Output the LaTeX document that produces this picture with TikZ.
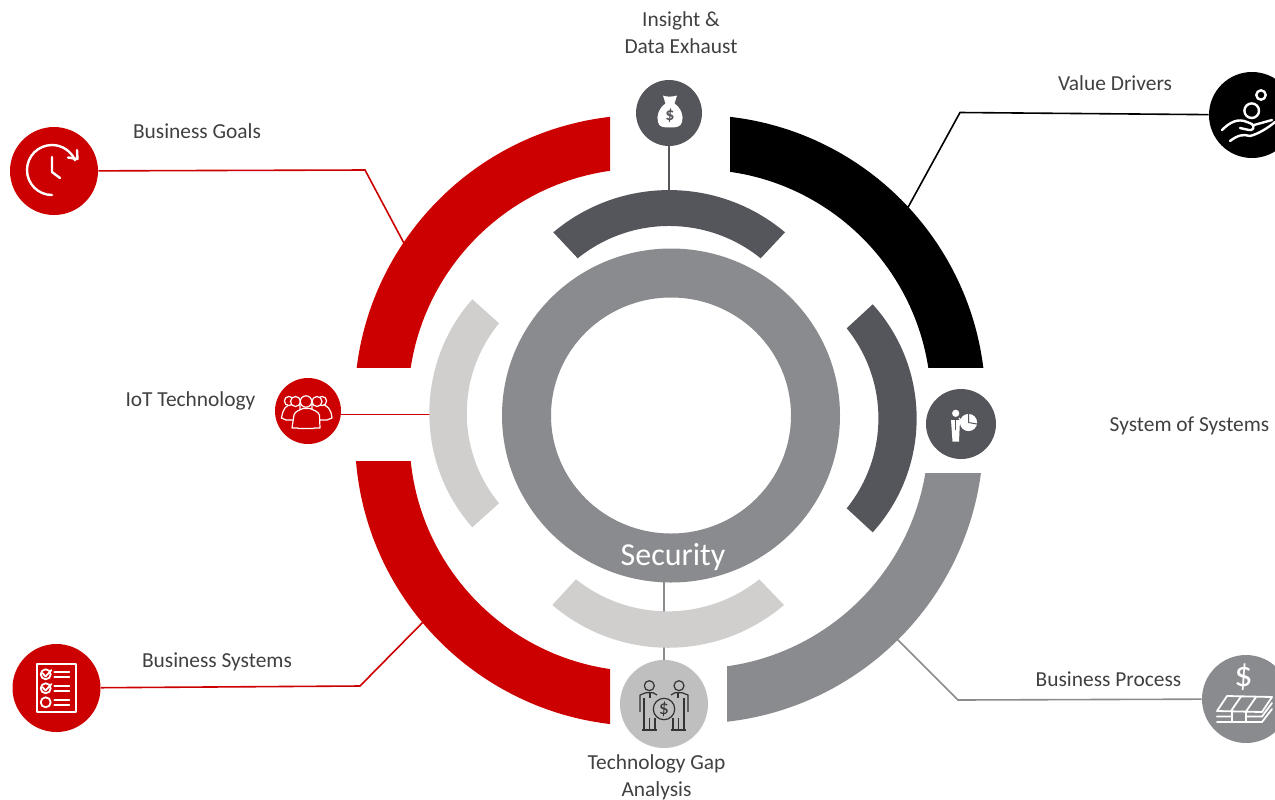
\documentclass[tikz,border=0pt]{standalone}
\usepackage{fontspec}
\setmainfont{Carlito}
\definecolor{ringred}{HTML}{CC0000}
\definecolor{ringdark}{HTML}{55565B}
\definecolor{ringmid}{HTML}{8A8B8E}
\definecolor{ringlight}{HTML}{D0CFCD}
\definecolor{iconlight}{HTML}{BFBFBF}
\definecolor{labeltext}{HTML}{404040}
\def\ringquad[#1](#2)(#3)(#4)(#5:#6){\begin{scope}\clip (#3) rectangle (#4);\fill[#1,even odd rule] (#2) circle (#5) (#2) circle (#6);\end{scope}}
\tikzset{
	label/.style={text=labeltext, font=\fontsize{10.7}{12}\selectfont, inner sep=0pt},
	iconbig/.style={circle, fill=#1, minimum size=44pt, inner sep=0pt},
	iconsmall/.style={circle, fill=#1, minimum size=33pt, inner sep=0pt},
	wire/.style={line width=0.8pt, color=#1},
	glyph/.style={line width=1.2pt, color=white, line cap=round, line join=round},
	thin glyph/.style={line width=0.6pt, color=white, line join=round},
	dark glyph/.style={line width=0.6pt, color=black!80, line join=round}
}
\begin{document}
\begin{tikzpicture}[x=0.5pt, y=-0.5pt]
			%%%%% FRAME %%%%%
			\clip (0, 0) rectangle (1275, 799);
			
			%%%%% ICON DISCS %%%%%
			\node[iconbig=ringred] (goals) at (54, 171) {};
			\node[iconbig=black, minimum size=43pt] (drivers) at (1252, 115) {};
			\node[iconbig=ringred] (systems) at (56.5, 688) {};
			\node[iconbig=ringmid] (process) at (1246, 699) {};
			\node[iconbig=iconlight] (gap) at (664, 704) {};
			\node[iconsmall=ringdark] (insight) at (669, 113) {};
			\node[iconsmall=ringred] (iot) at (308, 411) {};
			\node[iconsmall=ringdark, minimum size=35pt] (sos) at (961, 424) {};
			
			%%%%% CONNECTORS %%%%%
			\coordinate (goalsbend) at (365, 170);
			\coordinate (goalsend) at (406, 247);
			\coordinate (driversbend) at (960, 112.5);
			\coordinate (driversend) at (906, 211);
			\coordinate (systemsbend) at (360, 686);
			\coordinate (systemsend) at (428, 617);
			\coordinate (processbend) at (958, 700);
			\coordinate (processend) at (894, 636);
			\coordinate (iotend) at (432, 414.3);
			\coordinate (insightend) at (669, 192);
			\coordinate (gapend) at (664, 580);
			
			\draw[wire=ringred] (goals) -- (goalsbend) -- (goalsend);
			\draw[wire=black] (drivers) -- (driversbend) -- (driversend);
			\draw[wire=ringred] (systems) -- (systemsbend) -- (systemsend);
			\draw[wire=ringmid] (process) -- (processbend) -- (processend);
			\draw[wire=ringred] (iot.east |- iotend) -- (iotend);
			\draw[wire=ringdark] (insight) -- (insightend);
			\draw[wire=ringmid] (gap) -- (gapend);
			
			%%%%% OUTER RING %%%%%
			\ringquad[ringred](643, 403.5)(250, 60)(610, 367)(288.5:235);
			\ringquad[black](697, 403.5)(730, 60)(1000, 367)(288.5:234);
			\ringquad[ringred](644, 437)(250, 461)(610, 780)(289:234.5);
			\ringquad[ringmid](694.5, 434.5)(727, 473)(1000, 780)(289:234);
			
			%%%%% MIDDLE RING %%%%%
			\fill[ringdark] (553.3, 232.3) .. controls (620.2, 176) and (718.1, 176) .. (785, 232.3) -- (760.7, 258.3) .. controls (707.2, 215.2) and (631.2, 215.2) .. (577.7, 258.3) -- cycle;
			\fill[ringdark] (872.7, 304.3) .. controls (931.3, 369) and (931.3, 467.6) .. (872.7, 532.3) -- (846.7, 508.3) .. controls (889, 455.5) and (889, 381.1) .. (846.7, 328.3) -- cycle;
			\fill[ringlight] (472.3, 299.3) .. controls (415, 364) and (415, 462.6) .. (472.3, 527.3) -- (499, 503.3) .. controls (456, 450.5) and (456, 376.1) .. (499, 323.3) -- cycle;
			\fill[ringlight] (552.3, 605) .. controls (619.3, 662) and (717, 662) .. (784, 605) -- (759.3, 579.3) .. controls (705.8, 622) and (629.5, 622) .. (576, 579.3) -- cycle;
			
			%%%%% CENTRE RING %%%%%
			\fill[ringmid, even odd rule] (671, 415.5) ellipse (169 and 167) (671, 415.5) ellipse (120 and 118);
			\node[text=white, font=\fontsize{16}{18}\selectfont, inner sep=0pt] (security) at (673, 557) {Security};
			
			%%%%% LABELS %%%%%
			\node[label] (insightlabel) at (681, 21) {Insight \&};
			\node[label] (insightlabeltwo) at (681, 46.5) {Data Exhaust};
			\node[label] (driverslabel) at (1115, 83.5) {Value Drivers};
			\node[label] (goalslabel) at (197, 131.5) {Business Goals};
			\node[label] (iotlabel) at (190.5, 401) {IoT Technology};
			\node[label] (soslabel) at (1189.5, 426) {System of Systems};
			\node[label] (systemslabel) at (217, 661.5) {Business Systems};
			\node[label] (processlabel) at (1108.5, 679.5) {Business Process};
			\node[label] (gaplabel) at (656.5, 764) {Technology Gap};
			\node[label] (gaplabeltwo) at (656.5, 791) {Analysis};
			
			%%%%% CLOCK %%%%%
			\draw[glyph] (52, 195) arc (90:337:25);
			\draw[glyph] (77, 150) -- (77.5, 159) -- (68, 157.5);
			\draw[glyph] (52, 157) -- (52, 172) -- (60, 178);
			
			%%%%% HAND AND COINS %%%%%
			\draw[glyph] (1251.7, 110.7) circle (7.3);
			\draw[glyph] (1261, 95) circle (4.7);
			\draw[glyph] (1222, 130) .. controls (1230, 122) and (1238, 118) .. (1247, 122) -- (1252, 124) .. controls (1255, 127) and (1253, 131) .. (1249, 130) -- (1240, 128);
			\draw[glyph] (1230, 141) .. controls (1238, 135) and (1243, 134) .. (1250, 136) .. controls (1258, 134) and (1268, 128) .. (1275, 122);
			\draw[glyph] (1254, 125) -- (1272, 120);
			
			%%%%% CHECKLIST %%%%%
			\draw[glyph, line width=0.9pt] (36.7, 664) rectangle (76, 712);
			\draw[glyph, line width=0.9pt] (45.7, 674.3) circle (5) (45.7, 688.3) circle (5) (45.7, 702.3) circle (5);
			\draw[glyph, line width=0.9pt] (42.5, 673) -- (45.5, 676.5) -- (51.5, 670) (42.5, 687) -- (45.5, 690.5) -- (51.5, 684);
			\draw[glyph, line width=0.9pt] (54.3, 672.3) -- (69.3, 672.3) (54.3, 676.7) -- (69.3, 676.7);
			\draw[glyph, line width=0.9pt] (54.3, 686.3) -- (69.3, 686.3) (54.3, 690.7) -- (69.3, 690.7);
			\draw[glyph, line width=0.9pt] (54.3, 700.3) -- (69.3, 700.3) (54.3, 704.7) -- (69.3, 704.7);
			
			%%%%% MONEY BAG %%%%%
			\fill[white] (663, 95.5) .. controls (666, 97) and (673, 97) .. (677, 95.5) -- (674.5, 103.5) .. controls (681, 108) and (684, 116) .. (682, 122) .. controls (681, 127) and (676, 127.5) .. (670, 127.5) .. controls (663, 127.5) and (659, 127) .. (658, 122) .. controls (656, 116) and (659, 108) .. (665.5, 103.5) -- cycle;
			\node[text=ringdark, font=\fontsize{9}{10}\selectfont\bfseries, inner sep=0pt] (bagsign) at (670, 116) {\$};
			
			%%%%% PERSON AND PIE %%%%%
			\fill[white] (955.7, 413.3) circle (3.6);
			\fill[white] (951, 420) -- (960, 420) -- (959, 441.5) -- (952.5, 441.5) -- cycle;
			\draw[ringdark, line width=0.4pt] (955.5, 420) -- (955.5, 430);
			\fill[white] (968.5, 422.5) circle (8.6);
			\draw[ringdark, line width=0.5pt] (968.5, 422.5) -- (968.5, 413) (968.5, 422.5) -- (977, 424);
			\draw[white, line width=0.6pt] (959, 418) -- (963, 423);
			
			%%%%% MONEY STACK %%%%%
			\node[text=white, font=\fontsize{18}{20}\selectfont, inner sep=0pt] (stacksign) at (1243.5, 677) {\$};
			\draw[glyph, line width=0.9pt] (1227, 696) -- (1272, 697) -- (1262, 712) -- (1217, 711) -- cycle;
			\draw[glyph, line width=0.9pt] (1241, 696.5) -- (1231, 711) (1256, 697) -- (1246, 711.5);
			\draw[glyph, line width=0.9pt] (1232, 711) -- (1232, 722) -- (1246, 722) -- (1246, 711.5);
			\draw[glyph, line width=0.9pt] (1217, 716.5) -- (1232, 716.5) (1246, 716.5) -- (1262, 716.5) -- (1272, 703);
			\draw[glyph, line width=0.9pt] (1217, 722) -- (1232, 722) (1246, 722) -- (1262, 722) -- (1272, 709);
			
			%%%%% CROWD %%%%%
			\draw[thin glyph, fill=ringred] (281.5, 418) .. controls (283, 408) and (286, 406) .. (291, 404) -- (300, 404) -- (300, 420) -- (286, 420) -- cycle;
			\draw[thin glyph, fill=ringred] (332, 418) .. controls (331, 408) and (327, 406) .. (322, 404) -- (312, 404) -- (312, 420) -- (327, 420) -- cycle;
			\draw[thin glyph, fill=ringred] (289, 401) circle (4.6);
			\draw[thin glyph, fill=ringred] (322, 401) circle (4.6);
			\draw[thin glyph, fill=ringred] (295.5, 401.5) circle (5);
			\draw[thin glyph, fill=ringred] (317, 401.5) circle (5);
			\draw[thin glyph, fill=ringred] (292, 428) -- (294, 415) .. controls (295, 411) and (300, 410) .. (303, 408.5) -- (310, 408.5) .. controls (313, 410) and (318, 411) .. (319.5, 415) -- (320, 428) -- (314, 428) -- (314, 428.5) -- (298, 428.5) -- (298, 428) -- cycle;
			\draw[thin glyph, fill=ringred] (306, 401.5) circle (5.7);
			
			%%%%% TWO PEOPLE AND COIN %%%%%
			\draw[dark glyph] (649.3, 685.7) circle (5) (679, 685.7) circle (5);
			\draw[dark glyph] (640, 712) -- (640, 695) -- (646, 692.7) -- (653, 692.7) -- (657, 695);
			\draw[dark glyph] (688, 712) -- (688, 695) -- (682, 692.7) -- (675, 692.7) -- (671, 695);
			\draw[dark glyph] (644, 698) -- (644, 729) (650, 692.7) -- (650, 698) (649.5, 718) -- (649.5, 729) (655, 718) -- (655, 729);
			\draw[dark glyph] (684, 698) -- (684, 729) (678, 692.7) -- (678, 698) (678.5, 718) -- (678.5, 729) (673, 718) -- (673, 729);
			\draw[dark glyph] (642, 730) -- (657, 730) (671, 730) -- (686, 730);
			\draw[dark glyph, fill=iconlight] (664, 709) circle (10.7);
			\node[text=black!80, font=\fontsize{10}{11}\selectfont, inner sep=0pt] (coinsign) at (664, 709) {\$};
\end{tikzpicture}
\end{document}
